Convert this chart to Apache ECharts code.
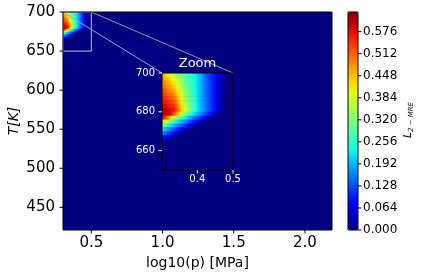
<!DOCTYPE html>
<html><head><meta charset="utf-8">
<script src="https://cdn.jsdelivr.net/npm/echarts@6/dist/echarts.min.js"></script>
<style>html,body{margin:0;padding:0;background:#fff}#c{width:424px;height:277px}</style>
</head><body><div id="c"></div>
<script>
// ---- data ----
const logPCols = [0.305,0.315,0.325,0.335,0.345,0.355,0.365,0.375,0.385,0.395,0.405,0.415,0.425,0.435,0.445,0.455,0.465,0.475,0.485,0.495];
const tempRows = [699,697,695,693,691,689,687,685,683,681,679,677,675,673,671,669,667,665,663];
const lossRows = [
 [0.454,0.428,0.401,0.371,0.340,0.314,0.288,0.264,0.246,0.229,0.203,0.169,0.139,0.115,0.092,0.066,0.037,0.009,0,0],
 [0.471,0.447,0.421,0.393,0.359,0.328,0.298,0.271,0.251,0.230,0.203,0.170,0.140,0.116,0.092,0.066,0.036,0.008,0,0],
 [0.488,0.465,0.441,0.415,0.378,0.343,0.309,0.279,0.255,0.232,0.204,0.171,0.141,0.117,0.093,0.065,0.035,0.007,0,0],
 [0.505,0.483,0.461,0.437,0.397,0.357,0.319,0.286,0.259,0.233,0.204,0.172,0.142,0.117,0.093,0.065,0.034,0.006,0,0],
 [0.522,0.502,0.481,0.459,0.416,0.371,0.329,0.294,0.264,0.235,0.204,0.172,0.143,0.118,0.093,0.065,0.033,0.005,0,0],
 [0.538,0.520,0.501,0.481,0.435,0.386,0.339,0.301,0.268,0.236,0.205,0.173,0.145,0.119,0.093,0.064,0.032,0.004,0,0],
 [0.555,0.539,0.521,0.503,0.454,0.400,0.349,0.309,0.273,0.238,0.205,0.175,0.146,0.120,0.093,0.064,0.031,0.003,0,0],
 [0.572,0.557,0.541,0.525,0.473,0.414,0.360,0.316,0.277,0.239,0.205,0.176,0.147,0.120,0.094,0.064,0.030,0.002,0,0],
 [0.589,0.575,0.561,0.547,0.492,0.429,0.370,0.324,0.281,0.241,0.206,0.177,0.148,0.121,0.094,0.063,0.029,0.001,0,0],
 [0.606,0.594,0.581,0.569,0.511,0.443,0.380,0.331,0.286,0.242,0.206,0.177,0.149,0.122,0.094,0.063,0.028,0,0,0],
 [0.603,0.591,0.580,0.520,0.450,0.385,0.335,0.288,0.243,0.206,0.178,0.150,0.122,0.094,0.063,0.028,0,0,0,0],
 [0.568,0.508,0.434,0.375,0.325,0.279,0.234,0.200,0.172,0.144,0.116,0.088,0.056,0.021,0,0,0,0,0,0],
 [0.418,0.365,0.315,0.270,0.225,0.195,0.167,0.139,0.111,0.083,0.049,0.014,0,0,0,0,0,0,0,0],
 [0.310,0.265,0.220,0.192,0.164,0.136,0.108,0.080,0.045,0.010,0,0,0,0,0,0,0,0,0,0],
 [0.214,0.186,0.158,0.130,0.102,0.073,0.038,0.003,0,0,0,0,0,0,0,0,0,0,0,0],
 [0.156,0.128,0.100,0.070,0.035,0,0,0,0,0,0,0,0,0,0,0,0,0,0,0],
 [0.094,0.063,0.028,0,0,0,0,0,0,0,0,0,0,0,0,0,0,0,0,0],
 [0.024,0,0,0,0,0,0,0,0,0,0,0,0,0,0,0,0,0,0,0],
 [0,0,0,0,0,0,0,0,0,0,0,0,0,0,0,0,0,0,0,0]
];
const domainLogP = [0.301, 2.19];
const domainT = [421, 700];
const zoomLogP = [0.301, 0.5];
const zoomT = [650, 700];
const backgroundLoss = 0;
const xTicksMain = [0.5, 1.0, 1.5, 2.0];
const yTicksMain = [450, 500, 550, 600, 650, 700];
const xTicksZoom = [0.4, 0.5];
const yTicksZoom = [660, 680, 700];
const cbarTicks = [0, 0.064, 0.128, 0.192, 0.256, 0.320, 0.384, 0.448, 0.512, 0.576];
const cbarRange = [0, 0.633];
const xTitle = 'log10(p) [MPa]';
const yTitle = 'T[K]';
const jetColors = ['#000080','#0000c8','#0000ff','#0040ff','#0080ff','#00c0ff','#15ffe2','#48ffaf','#7bff7b','#afff48','#e2ff15','#ffd200','#ff9700','#ff5c00','#ff2100','#c80000','#800000'];

// ---- one band item per temperature row (plus the zero background) ----
const halfW = (logPCols[1] - logPCols[0]) / 2;
const halfH = (tempRows[0] - tempRows[1]) / 2;
const bandItems = tempRows.map((t, r) => [logPCols[0] - halfW, logPCols[logPCols.length - 1] + halfW, t - halfH, t + halfH, r]);
const mainItems = [[domainLogP[0], domainLogP[1], domainT[0], domainT[1], -1]].concat(bandItems);
const zoomItems = [[zoomLogP[0], zoomLogP[1], zoomT[0], zoomT[1], -1]].concat(bandItems);

const colorOf = v => echarts.color.lerp(Math.min(1, Math.max(0, (v - cbarRange[0]) / (cbarRange[1] - cbarRange[0]))), jetColors);

function renderBand(params, api) {
  const r = api.value(4);
  const x0 = api.value(0), x1 = api.value(1);
  const a = api.coord([x0, api.value(3)]);
  const b = api.coord([x1, api.value(2)]);
  let fill;
  if (r < 0) {
    fill = colorOf(backgroundLoss);
  } else {
    fill = { type: 'linear', x: 0, y: 0, x2: 1, y2: 0, global: false,
      colorStops: logPCols.map((p, c) => ({ offset: (p - x0) / (x1 - x0), color: colorOf(lossRows[r][c]) })) };
  }
  return { type: 'rect',
    shape: { x: a[0], y: a[1], width: b[0] - a[0], height: b[1] - a[1] + (r < 0 ? 0 : 0.5) },
    style: { fill: fill } };
}

const chart = echarts.init(document.getElementById('c'));
chart.setOption({
  animation: false,
  grid: [
    { left: 63, top: 12, width: 269, height: 218 },
    { left: 162, top: 73, width: 71, height: 97 },
    { left: 348, top: 12, width: 10, height: 218 }
  ],
  xAxis: [
    { gridIndex: 0, type: 'value', min: domainLogP[0], max: domainLogP[1], show: false },
    { gridIndex: 1, type: 'value', min: zoomLogP[0], max: zoomLogP[1], show: false },
    { gridIndex: 2, type: 'value', min: 0, max: 1, show: false }
  ],
  yAxis: [
    { gridIndex: 0, type: 'value', min: domainT[0], max: domainT[1], show: false },
    { gridIndex: 1, type: 'value', min: zoomT[0], max: zoomT[1], show: false },
    { gridIndex: 2, type: 'value', min: cbarRange[0], max: cbarRange[1], show: false }
  ],
  visualMap: {
    type: 'continuous', min: cbarRange[0], max: cbarRange[1], seriesIndex: [],
    inRange: { color: jetColors },
    left: 348, top: 12, itemWidth: 10, itemHeight: 218, padding: 0
  },
  series: [
    { type: 'custom', xAxisIndex: 0, yAxisIndex: 0, data: mainItems, renderItem: renderBand, clip: true, z: 2 },
    { type: 'custom', xAxisIndex: 1, yAxisIndex: 1, data: zoomItems, renderItem: renderBand, clip: true, z: 6 }
  ]
});

// ---- frames, ticks and labels placed through the library's coordinate conversion ----
const G = [];
const px = (g, v) => chart.convertToPixel({ gridIndex: g }, v);
function seg(p, q, color, z) {
  G.push({ type: 'line', z: z, silent: true, shape: { x1: p[0], y1: p[1], x2: q[0], y2: q[1] }, style: { stroke: color, lineWidth: 1 } });
}
function txt(x, y, text, font, color, align, rot) {
  G.push({ type: 'text', z: 30, silent: true, x: x, y: y, rotation: rot || 0,
    style: { text: text, font: font, fill: color, textAlign: align, textVerticalAlign: 'middle' } });
}
function box(g, xr, yr, color, z) {
  const tl = px(g, [xr[0], yr[1]]), tr = px(g, [xr[1], yr[1]]), br = px(g, [xr[1], yr[0]]), bl = px(g, [xr[0], yr[0]]);
  seg(tl, tr, color, z); seg(tr, br, color, z); seg(br, bl, color, z); seg(bl, tl, color, z);
}
const F15 = '15px "DejaVu Sans"', F14 = '14px "DejaVu Sans"', F12 = '12px "DejaVu Sans"', F10 = '10px "DejaVu Sans"';

// main axes
box(0, domainLogP, domainT, '#000', 20);
xTicksMain.forEach(v => { const p = px(0, [v, domainT[0]]); seg(p, [p[0], p[1] + 3.5], '#000', 20); txt(p[0], p[1] + 13.5, v.toFixed(1), F15, '#000', 'center'); });
yTicksMain.forEach(v => { const p = px(0, [domainLogP[0], v]); seg([p[0] - 3.5, p[1]], p, '#000', 20); txt(p[0] - 8, p[1], String(v), F15, '#000', 'right'); });
const mBL = px(0, [domainLogP[0], domainT[0]]), mTR = px(0, [domainLogP[1], domainT[1]]);
txt((mBL[0] + mTR[0]) / 2, mBL[1] + 33, xTitle, F14, '#000', 'center');
txt(mBL[0] - 49, (mBL[1] + mTR[1]) / 2, yTitle, 'italic 14px "DejaVu Sans"', '#000', 'center', Math.PI / 2);

// zoom marker and connectors
box(0, zoomLogP, zoomT, '#c4c4c4', 8);
const boxTL = px(0, [zoomLogP[0], zoomT[1]]), boxTR = px(0, [zoomLogP[1], zoomT[1]]);
const insTL = px(1, [zoomLogP[0], zoomT[1]]), insTR = px(1, [zoomLogP[1], zoomT[1]]);
seg(boxTR, insTR, '#9a9a9a', 8);
seg(boxTL, insTL, '#a0a0d4', 8);

// inset axes
box(1, zoomLogP, zoomT, '#000', 25);
xTicksZoom.forEach(v => { const p = px(1, [v, zoomT[0]]); seg(p, [p[0], p[1] + 3.5], '#ffffff', 25); txt(p[0], p[1] + 9.5, v.toFixed(1), F10, '#ffffff', 'center'); });
yTicksZoom.forEach(v => { const p = px(1, [zoomLogP[0], v]); seg([p[0] - 3.5, p[1]], p, '#ffffff', 25); txt(p[0] - 7, p[1], String(v), F10, '#ffffff', 'right'); });
txt((insTL[0] + insTR[0]) / 2, insTL[1] - 9, 'Zoom', '13px "DejaVu Sans"', '#ffffff', 'center');

// colorbar
box(2, [0, 1], cbarRange, '#000', 25);
cbarTicks.forEach(v => { const p = px(2, [1, v]); seg(p, [p[0] + 3.5, p[1]], '#000', 25); txt(p[0] + 5, p[1], v.toFixed(3), F12, '#000', 'left'); });
txt(408, 135, 'L', 'italic 11px "DejaVu Sans"', '#000', 'center', Math.PI / 2);
txt(411, 117, '2 − MRE', 'italic 7px "DejaVu Sans"', '#000', 'center', Math.PI / 2);

chart.setOption({ graphic: G });
</script>
</body></html>
